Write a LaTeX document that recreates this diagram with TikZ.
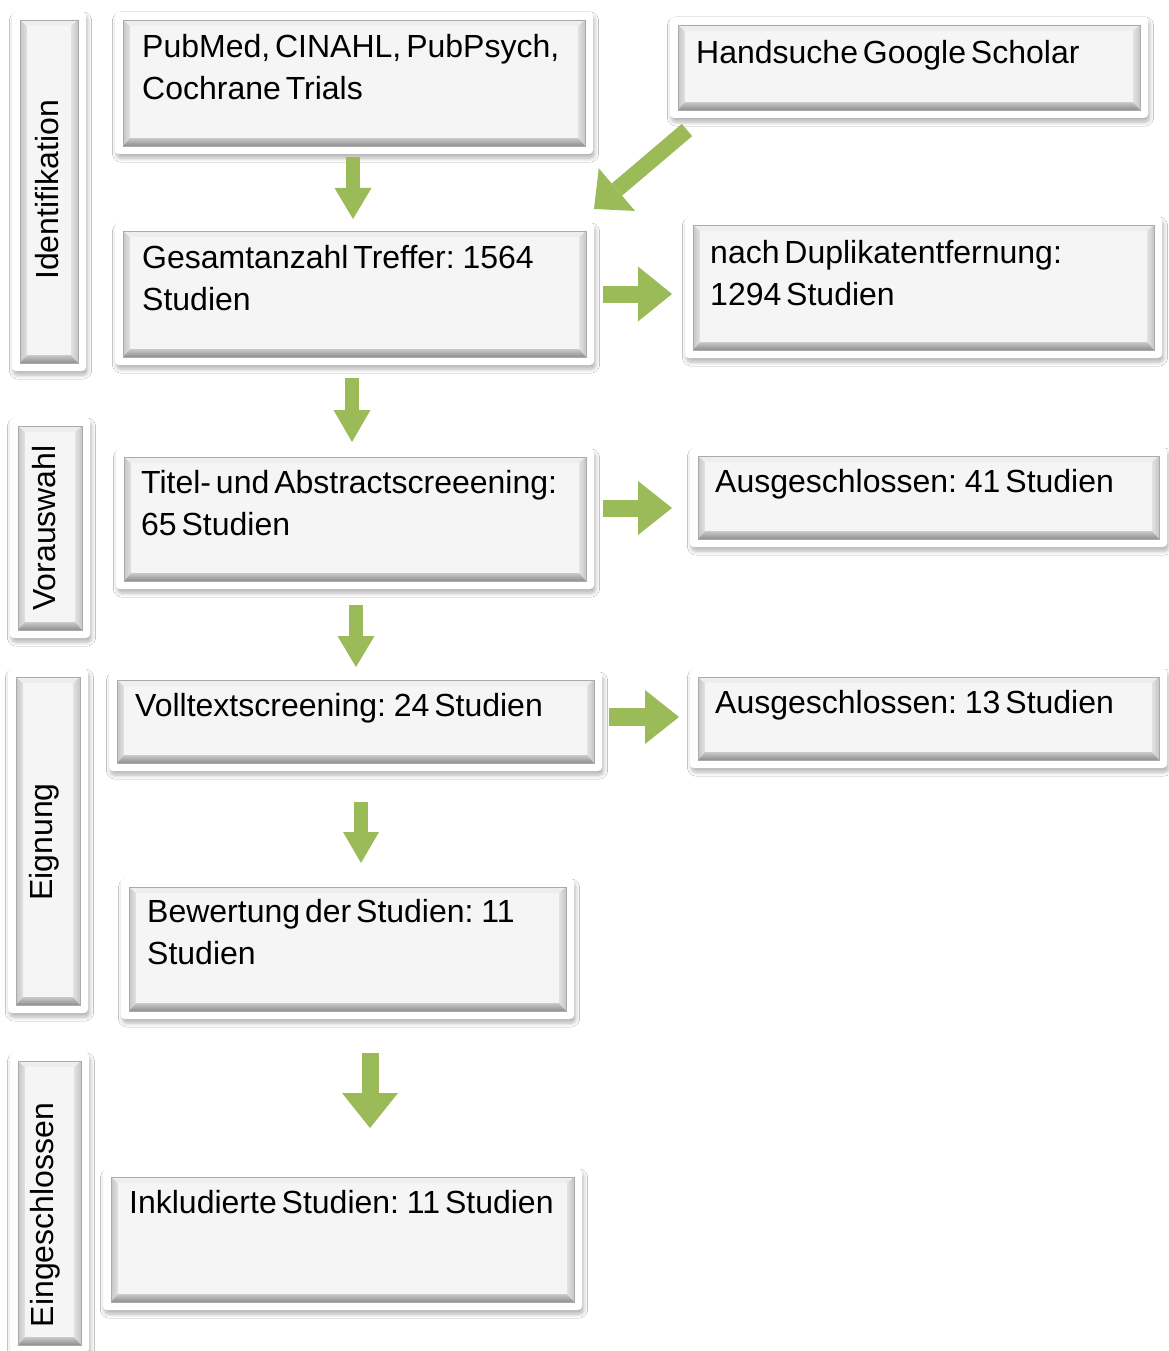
\documentclass[tikz,border=0pt]{standalone}
\usepackage{fontspec}
\setmainfont{Liberation Sans}[WordSpace=0.55]
\usetikzlibrary{arrows.meta,backgrounds,shadows.blur,calc}
\definecolor{ag}{HTML}{9BBB59}
\definecolor{facecol}{HTML}{F5F5F5}
\definecolor{bevL}{HTML}{C6C6C6}
\definecolor{bevLi}{HTML}{E2E2E2}
\definecolor{bevT}{HTML}{EEEEEE}
\definecolor{bevB}{HTML}{8E8E8E}
\definecolor{bevBi}{HTML}{CACACA}
\definecolor{edgecol}{HTML}{AAAAAA}
\tikzset{
  panelnode/.style={inner sep=0pt, outer sep=0pt, draw=none},
  outerframe/.style={fill=white, rounded corners=4pt,
    blur shadow={shadow xshift=1.5pt, shadow yshift=-4pt, shadow blur radius=4pt, shadow blur steps=6, shadow opacity=30}},
  txt/.style={inner sep=0pt, anchor=base west, font=\fontsize{32}{42}\selectfont, text=black},
  lbl/.style={inner sep=0pt, anchor=base, rotate=90, font=\fontsize{32}{42}\selectfont, text=black}
}
\newcommand\decor[1]{%
  \begin{scope}[on background layer]
    \fill[outerframe] (#1.north west) rectangle (#1.south east);
    \coordinate (#1a) at ([shift={(8pt,-8pt)}]#1.north west);
    \coordinate (#1b) at ([shift={(-8pt,8pt)}]#1.south east);
    \coordinate (#1c) at ([shift={(7pt,-6pt)}]#1a);
    \coordinate (#1d) at ([shift={(-7pt,8pt)}]#1b);
    \fill[facecol] (#1a) rectangle (#1b);
    \shade[left color=bevL, right color=bevLi] (#1a) -- (#1c) -- (#1c |- #1d) -- (#1a |- #1b) -- cycle;
    \fill[bevT] (#1a) -- (#1a -| #1b) -- (#1c -| #1d) -- (#1c) -- cycle;
    \shade[left color=bevLi, right color=bevL] (#1a -| #1b) -- (#1b) -- (#1d) -- (#1c -| #1d) -- cycle;
    \shade[top color=bevBi, bottom color=bevB] (#1a |- #1b) -- (#1b) -- (#1d) -- (#1c |- #1d) -- cycle;
    \fill[facecol] (#1c) rectangle (#1d);
    \draw[edgecol, line width=0.7pt] (#1a) rectangle (#1b);
  \end{scope}}
\newcommand\panel[5]{%
  \pgfmathsetmacro\pw{#4-#2}\pgfmathsetmacro\ph{#5-#3}%
  \node[panelnode, minimum width=\pw pt, minimum height=\ph pt, anchor=north west] (#1) at (#2,#3) {};%
  \decor{#1}}
\newcommand\garrow[5]{%
  \draw[ag, line width=#3pt, -{Triangle[width=#4pt,length=#5pt,line width=0pt]}] (#1) -- (#2);}
\begin{document}
\begin{tikzpicture}[x=1pt,y=-1pt]
\begin{scope}[on background layer]
  \fill[white] (0,0) rectangle (1168,1351);
\end{scope}
\useasboundingbox (0,0) rectangle (1168,1351);

% side labels
\panel{ident}{12}{12}{86}{371}
\panel{vor}{10}{418}{90}{638}
\panel{eig}{8}{669}{88}{1013}
\panel{eing}{10}{1053}{89}{1353}
\node[lbl] (identt) at (58,190) {Identifikation};
\node[lbl] (vort) at (55,528) {Vorauswahl};
\node[lbl] (eigt) at (52,842) {Eignung};
\node[lbl] (eingt) at (53,1215) {Eingeschlossen};

% main boxes
\panel{pub}{115}{12}{593}{154}
\panel{hand}{670}{17}{1148}{118}
\panel{ges}{115}{223}{594}{365}
\panel{dup}{685}{217}{1162}{358}
\panel{tit}{116}{449}{594}{589}
\panel{aus1}{690}{448}{1167}{547}
\panel{vol}{109}{672}{602}{771}
\panel{aus2}{690}{669}{1167}{768}
\panel{bew}{121}{879}{574}{1019}
\panel{ink}{103}{1169}{582}{1310}

\node[txt] (pubt) at (142,58) {\begin{tabular}[t]{@{}l@{}}PubMed, CINAHL, PubPsych,\\Cochrane Trials\end{tabular}};
\node[txt] (handt) at (696,64) {Handsuche Google Scholar};
\node[txt] (gest) at (142,268) {\begin{tabular}[t]{@{}l@{}}Gesamtanzahl Treffer: 1564\\Studien\end{tabular}};
\node[txt] (dupt) at (710,263) {\begin{tabular}[t]{@{}l@{}}nach Duplikatentfernung:\\1294 Studien\end{tabular}};
\node[txt] (titt) at (141,493) {\begin{tabular}[t]{@{}l@{}}Titel- und Abstractscreeening:\\65 Studien\end{tabular}};
\node[txt] (aus1t) at (715,492) {Ausgeschlossen: 41 Studien};
\node[txt] (volt) at (135,716) {Volltextscreening: 24 Studien};
\node[txt] (aus2t) at (715,713) {Ausgeschlossen: 13 Studien};
\node[txt] (bewt) at (147,922) {\begin{tabular}[t]{@{}l@{}}Bewertung der Studien: 11\\Studien\end{tabular}};
\node[txt] (inkt) at (129,1213) {Inkludierte Studien: 11 Studien};

% arrow end points
\coordinate (a1s) at (353,157);  \coordinate (a1e) at (353,219);
\coordinate (dgs) at (687,130);  \coordinate (dge) at (594,209);
\coordinate (a2s) at (352,378);  \coordinate (a2e) at (352,442);
\coordinate (r1s) at (603,294);  \coordinate (r1e) at (672,294);
\coordinate (r2s) at (603,508);  \coordinate (r2e) at (672,508);
\coordinate (a3s) at (356,605);  \coordinate (a3e) at (356,667);
\coordinate (r3s) at (609,717);  \coordinate (r3e) at (679,717);
\coordinate (a4s) at (361,802);  \coordinate (a4e) at (361,863);
\coordinate (a5s) at (370,1053); \coordinate (a5e) at (370,1128);

\garrow{a1s}{a1e}{14}{37}{31}
\garrow{dgs}{dge}{16}{56}{30}
\garrow{a2s}{a2e}{14}{37}{32}
\garrow{r1s}{r1e}{17}{55}{34}
\garrow{r2s}{r2e}{17}{54}{34}
\garrow{a3s}{a3e}{14}{37}{31}
\garrow{r3s}{r3e}{18}{54}{34}
\garrow{a4s}{a4e}{14}{36}{31}
\garrow{a5s}{a5e}{17}{56}{35}
\end{tikzpicture}
\end{document}
